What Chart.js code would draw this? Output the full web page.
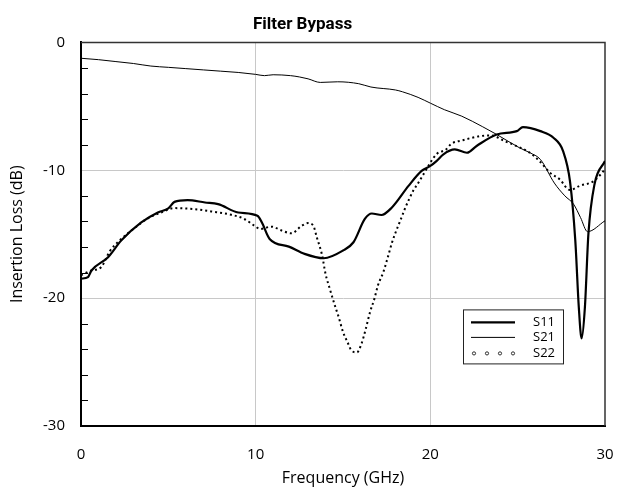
<!DOCTYPE html>
<html>
<head>
<meta charset="utf-8">
<script src="https://cdn.jsdelivr.net/npm/chart.js@4.4.1/dist/chart.umd.min.js"></script>
<style>
  html, body { margin: 0; padding: 0; background: #fff; overflow: hidden; }
  #wrap { width: 619px; height: 496px; position: relative; }
  canvas { display: block; }
</style>
</head>
<body>
<div id="wrap"><canvas id="chart"></canvas></div>
<script>
// Số liệu (GHz, dB)
const freqS11 = [0, 0.4, 0.6, 1.55, 2.3, 3.45, 4.4, 5.0, 5.35, 6.1, 7.1, 7.85, 9.0, 10.1, 10.35, 10.8, 11.9, 12.8, 13.9, 15.0, 15.6, 16.25, 16.65, 17.2, 17.8, 18.75, 19.5, 20.0, 20.35, 20.75, 21.4, 22.1, 22.65, 23.8, 24.95, 25.3, 26.3, 27.05, 27.6, 28.0, 28.3, 28.5, 28.66, 28.85, 29.05, 29.4, 30];
const lossS11 = [-18.48, -18.35, -17.84, -16.8, -15.5, -14.08, -13.3, -12.98, -12.47, -12.34, -12.52, -12.65, -13.3, -13.56, -14.07, -15.37, -15.97, -16.54, -16.88, -16.28, -15.63, -13.81, -13.38, -13.5, -12.91, -11.22, -10.05, -9.66, -9.28, -8.75, -8.37, -8.63, -8.1, -7.2, -6.94, -6.63, -6.94, -7.46, -8.5, -10.9, -15.5, -20.7, -23.15, -20.7, -14.98, -11.09, -9.28];

const freqS21 = [0, 1, 2, 3, 4, 5, 6, 7, 8, 9, 10, 10.5, 11, 12, 12.5, 13, 13.7, 14.7, 15.9, 16.6, 18, 18.4, 19.3, 20, 20.8, 21.8, 23, 23.8, 25.1, 25.7, 26.3, 27.1, 27.7, 28.2, 28.6, 29.0, 30];
const lossS21 = [-1.24, -1.35, -1.5, -1.65, -1.85, -1.95, -2.05, -2.15, -2.25, -2.35, -2.5, -2.6, -2.53, -2.6, -2.7, -2.85, -3.13, -3.08, -3.23, -3.49, -3.72, -3.86, -4.3, -4.75, -5.26, -5.77, -6.6, -7.2, -8.24, -8.63, -9.15, -11.0, -12.0, -12.65, -13.7, -14.8, -13.95];

const freqS22 = [0, 0.6, 1.15, 1.65, 2.2, 3.0, 3.85, 4.6, 5.35, 6.5, 7.45, 8.6, 9.35, 10.0, 10.25, 10.9, 11.5, 12.05, 12.65, 13.0, 13.3, 13.5, 13.8, 14.0, 14.25, 14.5, 14.75, 15.0, 15.25, 15.5, 15.8, 16.05, 16.3, 16.55, 16.8, 17.0, 17.3, 17.55, 17.8, 18.05, 18.3, 18.55, 18.8, 19.05, 19.3, 19.55, 20.35, 20.9, 21.2, 21.8, 22.85, 23.5, 24.25, 24.95, 25.7, 26.25, 26.85, 27.4, 28.0, 28.55, 29.35, 29.8, 30];
const lossS22 = [-18.2, -17.84, -17.58, -16.33, -15.5, -14.59, -13.74, -13.3, -12.96, -13.04, -13.22, -13.48, -13.81, -14.41, -14.59, -14.41, -14.72, -14.93, -14.33, -14.13, -14.33, -15.24, -16.62, -18.1, -19.3, -20.43, -21.47, -22.64, -23.42, -24.12, -24.24, -23.6, -22.43, -21.08, -20.04, -19.0, -18.0, -16.88, -15.68, -14.72, -13.87, -12.99, -12.21, -11.53, -11.01, -10.44, -8.75, -8.37, -7.93, -7.67, -7.33, -7.28, -7.72, -8.11, -8.63, -9.28, -10.19, -10.7, -11.55, -11.22, -10.85, -10.25, -9.9];

const seriesNames = ["S11", "S21", "S22"];
const xTickStep = 10;
const yMajorStep = 10;
const yMinorStep = 2;

const toPoints = (xs, ys) => xs.map((x, i) => ({ x: x, y: ys[i] }));

const tickFont = { family: "'Open Sans', 'DejaVu Sans', sans-serif", size: 15 };
const titleFont = { family: "'Open Sans', 'DejaVu Sans', sans-serif", size: 16 };
const noColor = "rgba(0,0,0,0)";

// Khung viền + vạch chia phụ bên trong trục Y
const framePlugin = {
  id: "framePlugin",
  beforeDatasetsDraw(chart) {
    const { ctx, chartArea: a, scales } = chart;
    ctx.save();
    ctx.strokeStyle = "#000";
    ctx.lineWidth = 1;
    scales.y.ticks.forEach((t) => {
      if (t.value % yMajorStep === 0) return;
      const py = Math.round(scales.y.getPixelForValue(t.value)) + 0.5;
      ctx.beginPath();
      ctx.moveTo(a.left, py);
      ctx.lineTo(a.left + 7, py);
      ctx.stroke();
    });
    ctx.strokeStyle = "#333";
    ctx.lineWidth = 1.5;
    ctx.beginPath();
    ctx.moveTo(a.left, a.top);
    ctx.lineTo(a.right, a.top);
    ctx.lineTo(a.right, a.bottom);
    ctx.stroke();
    ctx.restore();
  },
};

// Chú thích đặt trong vùng vẽ
const legendPlugin = {
  id: "legendBox",
  afterDraw(chart) {
    const { ctx, chartArea: a } = chart;
    const x0 = a.left + 382;
    const y0 = a.top + 267;
    const w = 100, h = 54;
    ctx.save();
    ctx.fillStyle = "#fff";
    ctx.fillRect(x0, y0, w, h);
    ctx.strokeStyle = "#222";
    ctx.lineWidth = 1;
    ctx.strokeRect(x0 + 0.5, y0 + 0.5, w, h);

    const rows = [y0 + 13, y0 + 28, y0 + 44];
    const ds = chart.data.datasets;
    // S11
    ctx.strokeStyle = "#000";
    ctx.lineWidth = ds[0].borderWidth;
    ctx.beginPath();
    ctx.moveTo(x0 + 8, rows[0]);
    ctx.lineTo(x0 + 52, rows[0]);
    ctx.stroke();
    // S21
    ctx.lineWidth = ds[1].borderWidth;
    ctx.beginPath();
    ctx.moveTo(x0 + 8, rows[1]);
    ctx.lineTo(x0 + 52, rows[1]);
    ctx.stroke();
    // S22
    ctx.lineWidth = 0.8;
    [11, 24, 37, 50].forEach((dx) => {
      ctx.beginPath();
      ctx.arc(x0 + dx, rows[2], 1.6, 0, Math.PI * 2);
      ctx.stroke();
    });

    ctx.fillStyle = "#000";
    ctx.font = "13px 'Open Sans', 'Noto Sans', sans-serif";
    ctx.textBaseline = "middle";
    seriesNames.forEach((n, i) => ctx.fillText(n, x0 + 70, rows[i]));
    ctx.restore();
  },
};

const initChart = () => {
  const ctx = document.getElementById("chart").getContext("2d");
  new Chart(ctx, {
    type: "line",
    data: {
      datasets: [
        {
          label: seriesNames[0],
          data: toPoints(freqS11, lossS11),
          borderColor: "#000",
          borderWidth: 2.2,
          pointRadius: 0,
          cubicInterpolationMode: "monotone",
        },
        {
          label: seriesNames[1],
          data: toPoints(freqS21, lossS21),
          borderColor: "#000",
          borderWidth: 1,
          pointRadius: 0,
          cubicInterpolationMode: "monotone",
        },
        {
          label: seriesNames[2],
          data: toPoints(freqS22, lossS22),
          borderColor: "#000",
          borderWidth: 2,
          borderDash: [2, 3],
          borderCapStyle: "butt",
          pointRadius: 0,
          cubicInterpolationMode: "monotone",
        },
      ],
    },
    options: {
      responsive: true,
      maintainAspectRatio: false,
      animation: false,
      layout: { padding: { left: 0, right: 14, top: 0, bottom: 0 } },
      plugins: {
        legend: { display: false },
        tooltip: { enabled: false },
        title: {
          display: true,
          text: "Filter Bypass",
          color: "#000",
          font: { family: "'Liberation Sans Narrow', 'Roboto', sans-serif", size: 17, weight: "bold" },
          padding: { top: 15, bottom: 7 },
        },
      },
      scales: {
        x: {
          type: "linear",
          min: 0,
          max: 30,
          afterFit: (s) => { s.height = 70; },
          ticks: { stepSize: xTickStep, color: "#000", font: tickFont, padding: 0, maxRotation: 0 },
          grid: {
            drawTicks: true,
            tickLength: 20,
            tickColor: noColor,
            color: (c) => (c.tick && c.tick.value > 0 && c.tick.value < 30 ? "#c8c8c8" : noColor),
          },
          border: { color: "#000", width: 2 },
          title: {
            display: true,
            text: "Frequency (GHz)",
            color: "#000",
            font: titleFont,
            padding: { top: 0, bottom: 8 },
          },
        },
        y: {
          min: -30,
          max: 0,
          afterFit: (s) => { s.width = 81; },
          ticks: {
            stepSize: yMinorStep,
            autoSkip: false,
            color: "#000",
            font: tickFont,
            padding: 0,
            callback: (v) => (v % yMajorStep === 0 ? String(v) : ""),
          },
          grid: {
            drawTicks: true,
            tickLength: 16,
            tickColor: noColor,
            color: (c) =>
              c.tick && c.tick.value % yMajorStep === 0 && c.tick.value < 0 && c.tick.value > -30
                ? "#c8c8c8"
                : noColor,
          },
          border: { color: "#000", width: 2 },
          title: {
            display: true,
            text: "Insertion Loss (dB)",
            color: "#000",
            font: titleFont,
            padding: { top: 8, bottom: 0 },
          },
        },
      },
    },
    plugins: [framePlugin, legendPlugin],
  });
};

document.addEventListener("DOMContentLoaded", initChart);
</script>
</body>
</html>
